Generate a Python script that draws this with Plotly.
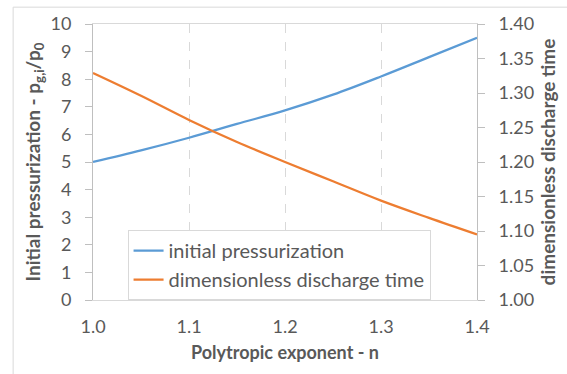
import plotly.graph_objects as go

n_values = [1.0, 1.05, 1.1, 1.15, 1.2, 1.25, 1.3, 1.35, 1.4]
initial_pressurization = [5.00, 5.42, 5.88, 6.38, 6.87, 7.44, 8.10, 8.80, 9.50]
discharge_time = [1.329, 1.296, 1.261, 1.229, 1.200, 1.172, 1.144, 1.119, 1.095]

FONT = "Lato"
GREY = "#595959"

fig = go.Figure()
fig.add_trace(go.Scatter(x=n_values, y=initial_pressurization, mode="lines",
                         name="initial pressurization",
                         line=dict(color="#5B9BD5", width=2.25, shape="spline")))
fig.add_trace(go.Scatter(x=n_values, y=discharge_time, mode="lines",
                         name="dimensionless discharge time", yaxis="y2",
                         line=dict(color="#ED7D31", width=2.25, shape="spline")))

fig.update_layout(
    width=567, height=374,
    margin=dict(l=93, r=85, t=23, b=74),
    paper_bgcolor="white", plot_bgcolor="white",
    font=dict(family=FONT, size=18, color=GREY),
    xaxis=dict(range=[1.0, 1.4], dtick=0.1, tickformat=".1f",
               showgrid=True, gridcolor="#d9d9d9", griddash="dash", gridwidth=1,
               showline=True, linecolor="#d9d9d9", linewidth=1, mirror=True,
               zeroline=False, ticks="", ticklabelstandoff=10,
               tickfont=dict(size=18, color=GREY),
               title=dict(text="<b>Polytropic exponent - n</b>", font=dict(size=18, color=GREY), standoff=10)),
    yaxis=dict(range=[0, 10], dtick=1, showgrid=False, zeroline=False,
               showline=True, linecolor="#bfbfbf", linewidth=1,
               ticks="outside", ticklen=7, tickcolor="#bfbfbf", ticklabelstandoff=10,
               tickfont=dict(size=18, color=GREY),
               title=dict(text="<b>Initial pressurization - p<sub>g,i</sub>/p<sub>0</sub></b>",
                          font=dict(size=19, color=GREY), standoff=4)),
    yaxis2=dict(range=[1.0, 1.4], dtick=0.05, tickformat=".2f", overlaying="y", side="right",
                showgrid=False, zeroline=False,
                showline=True, linecolor="#bfbfbf", linewidth=1,
                ticks="outside", ticklen=7, tickcolor="#bfbfbf", ticklabelstandoff=10,
                tickfont=dict(size=18, color=GREY),
                title=dict(text="<b>dimensionless discharge time</b>",
                           font=dict(size=19, color=GREY), standoff=8)),
    legend=dict(x=0.09, y=0.253, xanchor="left", yanchor="top",
                bgcolor="white", bordercolor="#d9d9d9", borderwidth=1,
                font=dict(size=20, color=GREY), tracegroupgap=0,
                itemwidth=30),
    showlegend=True,
    shapes=[dict(type="rect", xref="paper", yref="paper",
                 x0=-0.208, x1=1.3, y0=-0.3, y1=1.061,
                 line=dict(color="#d9d9d9", width=1), fillcolor="rgba(0,0,0,0)",
                 layer="below")],
)

fig.write_html("out.html")
